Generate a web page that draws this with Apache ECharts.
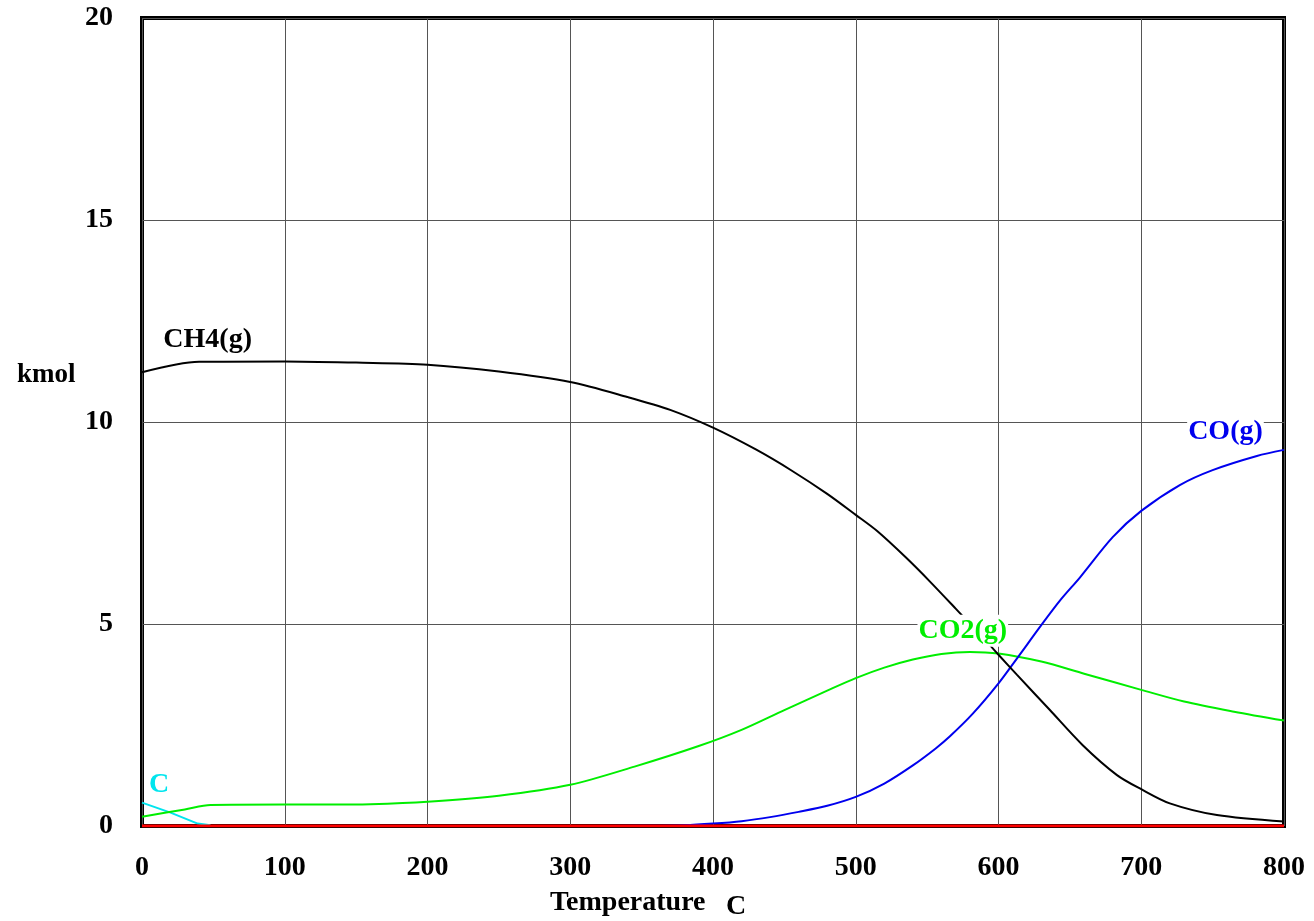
<!DOCTYPE html>
<html>
<head>
<meta charset="utf-8">
<script src="https://cdn.jsdelivr.net/npm/echarts@6/dist/echarts.min.js"></script>
<style>
  html, body { margin: 0; padding: 0; background: #fff; }
  #chart { width: 1314px; height: 921px; }
</style>
</head>
<body>
<div id="chart"></div>
<script>
// temperatures (C) and amounts (kmol)
const ch4Temp = [0, 40, 100, 150, 200, 250, 300, 340, 370, 400, 430, 455, 480, 500, 515, 535, 552, 570, 592, 600, 613, 636, 659, 683, 700, 720, 753, 800];
const ch4Kmol = [11.23, 11.49, 11.50, 11.47, 11.42, 11.25, 10.99, 10.62, 10.30, 9.86, 9.32, 8.80, 8.22, 7.70, 7.30, 6.65, 6.05, 5.38, 4.55, 4.24, 3.74, 2.87, 2.00, 1.26, 0.91, 0.56, 0.27, 0.11];

const co2Temp = [0, 30, 48, 100, 130, 160, 200, 250, 300, 345, 390, 420, 450, 480, 500, 520, 540, 560, 580, 600, 630, 660, 700, 730, 765, 800];
const co2Kmol = [0.23, 0.41, 0.52, 0.53, 0.53, 0.54, 0.60, 0.75, 1.02, 1.47, 1.98, 2.38, 2.87, 3.35, 3.66, 3.92, 4.12, 4.26, 4.31, 4.27, 4.07, 3.77, 3.37, 3.08, 2.83, 2.61];

const coTemp = [0, 100, 200, 300, 350, 380, 400, 420, 440, 460, 480, 500, 520, 540, 556, 566, 582, 600, 613, 631, 644, 657, 680, 700, 727, 750, 781, 800];
const coKmol = [0, 0, 0, 0, 0.005, 0.02, 0.06, 0.12, 0.22, 0.35, 0.5, 0.72, 1.05, 1.50, 1.92, 2.22, 2.78, 3.53, 4.15, 5.02, 5.62, 6.15, 7.15, 7.80, 8.44, 8.81, 9.16, 9.31];

const cTemp = [0, 20, 39, 48];
const cKmol = [0.58, 0.33, 0.06, 0.02];

const baseTemp = [0, 800];
const baseKmol = [0, 0];

// label anchors [temp, kmol]
const ch4LabelAt = [46, 12.03];
const co2LabelAt = [575, 4.83];
const coLabelAt = [759, 9.77];
const cLabelAt = [12, 1.01];

const xTicks = [0, 800, 100];
const yTicks = [0, 20, 5];

const FONT = 'Liberation Serif';

function pairs(xs, ys) {
  return xs.map((x, i) => [x, ys[i]]);
}

function tag(text, at, color, bg) {
  return {
    name: text + ' label',
    type: 'scatter',
    data: [at],
    symbolSize: 1,
    itemStyle: { color: 'rgba(0,0,0,0)' },
    silent: true,
    z: 20,
    label: {
      show: true,
      formatter: text,
      position: 'inside',
      color: color,
      opacity: 1,
      textBorderWidth: 0,
      textShadowBlur: 0,
      fontFamily: FONT,
      fontWeight: 'bold',
      fontSize: 28,
      backgroundColor: bg || 'transparent',
      padding: bg ? [3, 1, 1, 1] : 0
    }
  };
}

const myChart = echarts.init(document.getElementById('chart'));

const option = {
  backgroundColor: '#fff',
  animation: false,
  grid: {
    show: true,
    left: 142,
    top: 18,
    right: 30,
    bottom: 95,
    borderColor: '#000',
    borderWidth: 4,
    backgroundColor: '#fff'
  },
  xAxis: {
    type: 'value',
    min: xTicks[0],
    max: xTicks[1],
    interval: xTicks[2],
    axisLine: { show: false },
    axisTick: { show: false },
    splitLine: { show: true, lineStyle: { color: '#555', width: 1 } },
    axisLabel: {
      margin: 28,
      color: '#000',
      fontFamily: FONT,
      fontWeight: 'bold',
      fontSize: 28
    }
  },
  yAxis: {
    type: 'value',
    min: yTicks[0],
    max: yTicks[1],
    interval: yTicks[2],
    axisLine: { show: false },
    axisTick: { show: false },
    splitLine: { show: true, lineStyle: { color: '#555', width: 1 } },
    axisLabel: {
      margin: 29,
      color: '#000',
      fontFamily: FONT,
      fontWeight: 'bold',
      fontSize: 28
    }
  },
  graphic: [
    {
      type: 'text', left: 17, top: 362,
      style: { text: 'kmol', fill: '#000', font: 'bold 27px "Liberation Serif"' }
    },
    {
      type: 'text', left: 550, top: 889,
      style: { text: 'Temperature', fill: '#000', font: 'bold 28px "Liberation Serif"' }
    },
    {
      type: 'text', left: 726, top: 893,
      style: { text: 'C', fill: '#000', font: 'bold 28px "Liberation Serif"' }
    }
  ],
  series: [
    {
      name: 'C',
      type: 'line',
      data: pairs(cTemp, cKmol),
      showSymbol: false,
      lineStyle: { color: '#00e5ee', width: 2 }
    },
    {
      name: 'CO2(g)',
      type: 'line',
      data: pairs(co2Temp, co2Kmol),
      showSymbol: false,
      smooth: 0.3,
      lineStyle: { color: '#00ee00', width: 2 }
    },
    {
      name: 'CO(g)',
      type: 'line',
      data: pairs(coTemp, coKmol),
      showSymbol: false,
      smooth: 0.3,
      lineStyle: { color: '#0000ee', width: 2 }
    },
    {
      name: 'CH4(g)',
      type: 'line',
      data: pairs(ch4Temp, ch4Kmol),
      showSymbol: false,
      smooth: 0.3,
      lineStyle: { color: '#000', width: 2 }
    },
    {
      name: 'base',
      type: 'line',
      data: pairs(baseTemp, baseKmol),
      showSymbol: false,
      z: 10,
      lineStyle: { color: '#ff0000', width: 3 }
    },
    tag('C', cLabelAt, '#00e5ee'),
    tag('CO2(g)', co2LabelAt, '#00ee00', '#fff'),
    tag('CO(g)', coLabelAt, '#0000ee', '#fff'),
    tag('CH4(g)', ch4LabelAt, '#000')
  ]
};

myChart.setOption(option);

window.addEventListener('resize', () => {
  myChart.resize();
});
</script>
</body>
</html>
